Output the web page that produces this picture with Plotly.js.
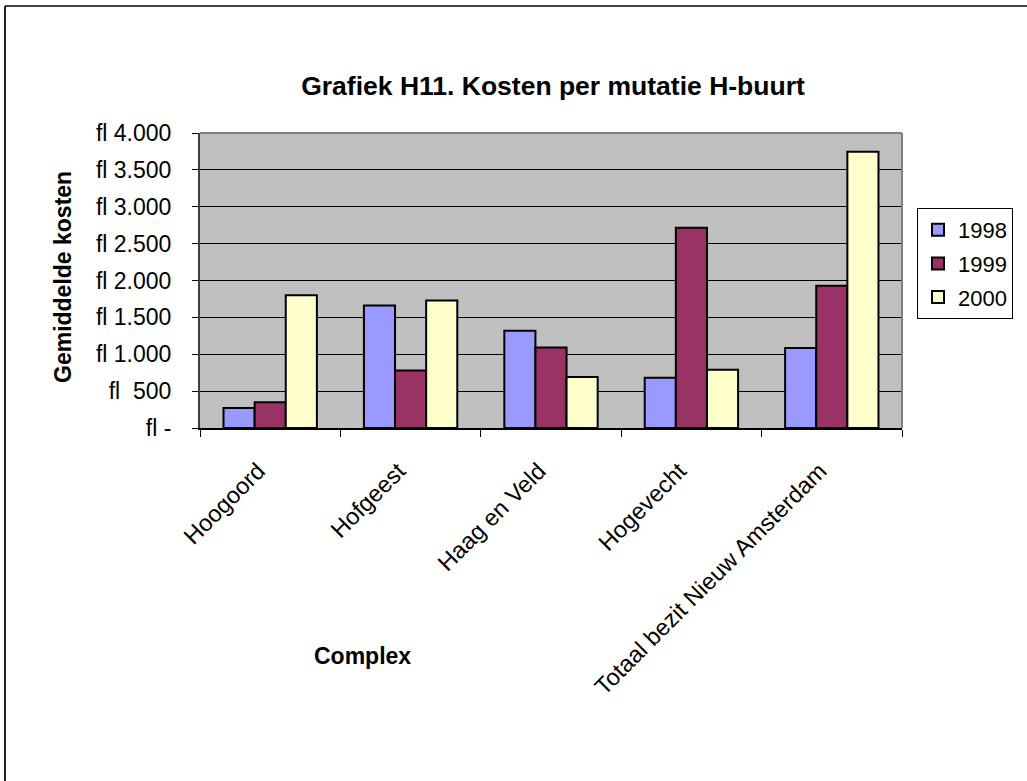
<!DOCTYPE html>
<html>
<head>
<meta charset="utf-8">
<script src="https://cdn.plot.ly/plotly-3.0.1.min.js"></script>
<style>
  html, body { margin: 0; padding: 0; background: #fff; overflow: hidden; }
  #chart { width: 1027px; height: 781px; }
</style>
</head>
<body>
<div id="chart"></div>
<script>
// ---- data ----
const categories = ["Hoogoord", "Hofgeest", "Haag en Veld", "Hogevecht", "Totaal bezit Nieuw Amsterdam"];
const seriesNames = ["1998", "1999", "2000"];
const values1998 = [270, 1660, 1320, 680, 1085];
const values1999 = [350, 780, 1090, 2715, 1930];
const values2000 = [1800, 1730, 690, 790, 3745];
const yTickVals = [0, 500, 1000, 1500, 2000, 2500, 3000, 3500, 4000];
const yTickText = ["fl -", "fl\u00A0\u00A0500", "fl 1.000", "fl 1.500", "fl 2.000", "fl 2.500", "fl 3.000", "fl 3.500", "fl 4.000"];
const titleText = "Grafiek H11. Kosten per mutatie H-buurt";
const yTitleText = "Gemiddelde kosten";
const xTitleText = "Complex";

const colors = ["#9999FF", "#993366", "#FFFFCC"];
const allValues = [values1998, values1999, values2000];
const FONT = "Arial, 'Liberation Sans', sans-serif";

// plot area in pixels: x 200..902, y 133..428
const PL = 200, PR = 902, PT = 133, PB = 428;
const px = v => (v - PL) / (PR - PL);
const py = v => (PB - v) / (PB - PT);

const traces = allValues.map((vals, i) => ({
  type: "bar",
  name: seriesNames[i],
  x: categories,
  y: vals,
  legendgroup: "g" + i,
  marker: { color: colors[i], line: { color: "#000", width: 2 } },
  hoverinfo: "x+y+name"
}));

const layout = {
  width: 1027, height: 781,
  margin: { l: PL, r: 1027 - PR, t: PT, b: 781 - PB, pad: 0 },
  paper_bgcolor: "#FFFFFF",
  plot_bgcolor: "#C0C0C0",
  font: { family: FONT, color: "#000" },
  barmode: "group",
  bargap: 0.335,
  bargroupgap: 0,
  title: {
    text: "<b>" + titleText + "</b>",
    font: { family: FONT, size: 26.5, color: "#000" },
    xref: "container", yref: "container",
    x: 553 / 1027, y: 1 - 86 / 781, xanchor: "center", yanchor: "middle"
  },
  xaxis: {
    type: "category",
    tickson: "boundaries",
    ticks: "outside", ticklen: 7, tickcolor: "#000", tickwidth: 1,
    tickangle: -45,
    tickfont: { family: FONT, size: 23.5, color: "#000" },
    ticklabelstandoff: 18,
    ticklabelshift: -12,
    showline: true, linecolor: "#000", linewidth: 2,
    showgrid: false, zeroline: false,
    automargin: false
  },
  yaxis: {
    range: [0, 4000],
    tickmode: "array", tickvals: yTickVals, ticktext: yTickText,
    ticks: "outside", ticklen: 6, tickcolor: "#000", tickwidth: 1,
    tickfont: { family: FONT, size: 23, color: "#000" },
    ticklabelstandoff: 16,
    showline: true, linecolor: "#404040", linewidth: 2,
    showgrid: true, gridcolor: "#000", gridwidth: 1,
    zeroline: false,
    automargin: false
  },
  legend: {
    x: px(917), xanchor: "left",
    y: py(208), yanchor: "top",
    bgcolor: "#FFFFFF", bordercolor: "#000", borderwidth: 1,
    font: { family: FONT, size: 22, color: "#000" },
    traceorder: "grouped",
    tracegroupgap: 2,
    itemwidth: 30
  },
  shapes: [
    // plot-area border (top and right, grey)
    { type: "line", xref: "paper", yref: "paper", x0: 0, x1: 1, y0: 1, y1: 1,
      line: { color: "#808080", width: 2 }, layer: "above" },
    { type: "line", xref: "paper", yref: "paper", x0: 1, x1: 1, y0: 0, y1: 1,
      line: { color: "#808080", width: 2 }, layer: "above" },
    // chart frame (left and top edges)
    { type: "line", xref: "paper", yref: "paper", x0: px(5), x1: px(1040), y0: py(6), y1: py(6),
      line: { color: "#444", width: 2 }, layer: "above" },
    { type: "line", xref: "paper", yref: "paper", x0: px(5), x1: px(5), y0: py(6), y1: py(800),
      line: { color: "#222", width: 2 }, layer: "above" }
  ],
  annotations: [
    { text: "<b>" + yTitleText + "</b>", xref: "paper", yref: "paper",
      x: px(63), y: py(277), xanchor: "center", yanchor: "middle",
      textangle: -90, showarrow: false, font: { family: FONT, size: 23, color: "#000" } },
    { text: "<b>" + xTitleText + "</b>", xref: "paper", yref: "paper",
      x: px(362), y: py(656), xanchor: "center", yanchor: "middle",
      showarrow: false, font: { family: FONT, size: 23, color: "#000" } }
  ]
};

Plotly.newPlot("chart", traces, layout, { displayModeBar: false, staticPlot: true });
</script>
</body>
</html>
